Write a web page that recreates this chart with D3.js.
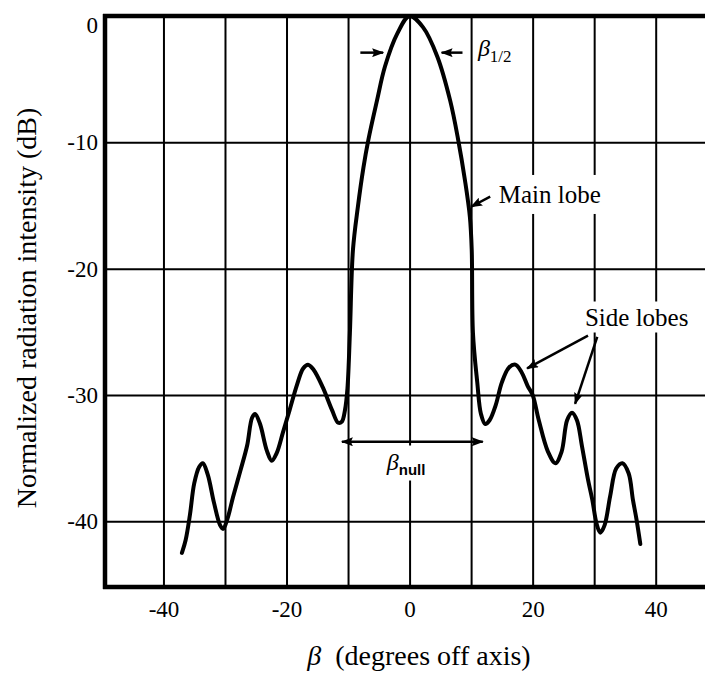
<!DOCTYPE html>
<html>
<head>
<meta charset="utf-8">
<script src="https://cdn.jsdelivr.net/npm/d3@7"></script>
<style>
  html, body { margin: 0; padding: 0; background: #fff; }
  svg { display: block; }
</style>
</head>
<body>
<div id="chart"></div>
<script>
// Antenna radiation pattern: angle off axis (deg) vs normalized intensity (dB)
const beta = [
  -37.0, -36.4, -35.7, -35.0, -34.2, -33.6, -32.8, -31.8, -30.8, -30.3,
  -29.6, -28.7, -27.5, -26.4, -25.6, -25.1, -24.3, -23.2, -22.4, -21.6,
  -20.6, -19.5, -18.3, -17.3, -16.5, -15.6, -14.1, -12.6, -11.6, -11.0,
  -10.5, -10.1, -9.7, -9.2, -8.4, -7.5, -6.7, -5.3, -4.0, -2.0,
  0, 2.2, 4.5, 6.6, 7.9, 9.0, 9.8, 10.1, 10.3, 11.0,
  11.6, 12.3, 13.0, 14.0, 15.0, 16.2, 17.2, 18.2, 19.2, 20.0,
  21.0, 22.5, 23.7, 24.7, 25.6, 26.4, 27.2, 28.0, 29.0, 29.7,
  30.4, 31.0, 31.7, 32.6, 33.6, 34.6, 35.6, 36.3, 36.9, 37.5
]
const intensity = [
  -42.5, -41.5, -39.5, -37.0, -35.7, -35.4, -36.3, -38.5, -40.3, -40.6,
  -39.8, -38.1, -36.0, -34.0, -31.8, -31.5, -32.3, -34.4, -35.2, -34.6,
  -33.0, -31.2, -29.2, -27.9, -27.6, -28.0, -29.4, -31.2, -32.2, -32.1,
  -31.2, -29.5, -25.1, -18.5, -15.1, -12.0, -9.8, -6.7, -4.0, -1.4,
  0, -0.9, -3.2, -6.7, -9.8, -13.0, -15.9, -18.5, -25.1, -29.0,
  -31.5, -32.3, -32.0, -30.8, -29.0, -27.8, -27.6, -28.2, -29.3, -30.0,
  -32.0, -34.5, -35.4, -34.5, -32.0, -31.4, -32.0, -34.0, -36.7, -38.3,
  -40.2, -40.9, -40.3, -38.0, -35.8, -35.4, -36.2, -38.3, -39.9, -41.8
]

const xTicks = [-40, -20, 0, 20, 40]
const xGrid = [-40, -30, -20, -10, 0, 10, 20, 30, 40]
const yTicks = [0, -10, -20, -30, -40]
const yGrid = [-10, -20, -30, -40]

const width = 705
const height = 673
const serif = '"Liberation Serif", "Times New Roman", serif'

const x = d3.scaleLinear().domain([-49.5, 48.5]).range([105, 708])
const y = d3.scaleLinear().domain([-45.2, 0]).range([587, 16])

const svg = d3.select('#chart')
  .append('svg')
  .attr('width', width)
  .attr('height', height)
  .attr('viewBox', `0 0 ${width} ${height}`)

// arrowhead used by all the annotation arrows
svg.append('defs')
  .append('marker')
  .attr('id', 'head')
  .attr('markerUnits', 'userSpaceOnUse')
  .attr('markerWidth', 12)
  .attr('markerHeight', 9)
  .attr('refX', 11)
  .attr('refY', 4.5)
  .attr('orient', 'auto-start-reverse')
  .append('path')
  .attr('d', 'M0,0 L12,4.5 L0,9 L2,4.5 Z')
  .attr('fill', '#000')

// Grid
svg.append('g')
  .attr('transform', `translate(0,${y(-45.2)})`)
  .call(d3.axisBottom(x).tickValues(xGrid).tickSize(-(y(-45.2) - y(0))).tickFormat(''))
  .call(g => g.select('.domain').remove())
  .selectAll('line')
  .attr('stroke', '#000')
  .attr('stroke-width', 2)

svg.append('g')
  .attr('transform', `translate(${x(-49.5)},0)`)
  .call(d3.axisLeft(y).tickValues(yGrid).tickSize(-(width - x(-49.5))).tickFormat(''))
  .call(g => g.select('.domain').remove())
  .selectAll('line')
  .attr('stroke', '#000')
  .attr('stroke-width', 2)

// Axis labels
svg.append('g')
  .attr('transform', `translate(0,${y(-45.2)})`)
  .call(d3.axisBottom(x).tickValues(xTicks).tickSize(0).tickPadding(14).tickFormat(d => String(d)))
  .call(g => g.select('.domain').remove())
  .selectAll('text')
  .attr('fill', '#000')
  .style('font-family', serif)
  .style('font-size', '23px')

svg.append('g')
  .attr('transform', `translate(${x(-49.5)},0)`)
  .call(d3.axisLeft(y).tickValues(yTicks).tickSize(0).tickPadding(7).tickFormat(d => String(d)))
  .call(g => g.select('.domain').remove())
  .selectAll('text')
  .attr('fill', '#000')
  .attr('dy', d => d === 0 ? '0.7em' : '0.32em')
  .style('font-family', serif)
  .style('font-size', '23px')

// Frame: left, top and bottom edges are heavier than the grid
const frame = svg.append('g').attr('stroke', '#000').attr('stroke-width', 4.5)
frame.append('line')
  .attr('x1', x(-49.5)).attr('x2', x(-49.5))
  .attr('y1', y(0) - 2).attr('y2', y(-45.2) + 2)
frame.append('line')
  .attr('x1', x(-49.5) - 2).attr('x2', width)
  .attr('y1', y(0)).attr('y2', y(0))
frame.append('line')
  .attr('x1', x(-49.5) - 2).attr('x2', width)
  .attr('y1', y(-45.2)).attr('y2', y(-45.2))

// Axis titles
svg.append('text')
  .attr('transform', `translate(36,308) rotate(-90)`)
  .attr('text-anchor', 'middle')
  .style('font-family', serif)
  .style('font-size', '28px')
  .text('Normalized radiation intensity (dB)')

const xTitle = svg.append('text')
  .attr('x', 419)
  .attr('y', 665)
  .attr('text-anchor', 'middle')
  .style('font-family', serif)
  .style('font-size', '28px')
xTitle.append('tspan').style('font-style', 'italic').text('β')
xTitle.append('tspan').text('\u00a0 (degrees off axis)')

// Pattern curve
const points = beta.map((b, i) => [b, intensity[i]])
const line = d3.line()
  .x(d => x(d[0]))
  .y(d => y(d[1]))
  .curve(d3.curveCatmullRom.alpha(0.5))

svg.append('path')
  .datum(points)
  .attr('fill', 'none')
  .attr('stroke', '#000')
  .attr('stroke-width', 4)
  .attr('stroke-linejoin', 'round')
  .attr('stroke-linecap', 'round')
  .attr('d', line)

// Annotations
function arrow(from, to, both) {
  svg.append('line')
    .attr('x1', x(from[0])).attr('y1', y(from[1]))
    .attr('x2', x(to[0])).attr('y2', y(to[1]))
    .attr('stroke', '#000')
    .attr('stroke-width', 2.5)
    .attr('marker-end', 'url(#head)')
    .attr('marker-start', both ? 'url(#head)' : null)
}

// white patch behind a label so grid lines break around it
function backdrop(text, padX, padY) {
  const b = text.node().getBBox()
  svg.insert('rect', () => text.node())
    .attr('x', b.x - padX).attr('y', b.y - padY)
    .attr('width', b.width + 2 * padX).attr('height', b.height + 2 * padY)
    .attr('fill', '#fff')
}

// half-power beamwidth
arrow([-8.0, -2.9], [-4.3, -2.9])
arrow([8.6, -2.9], [5.2, -2.9])
const halfLabel = svg.append('text')
  .attr('x', x(11.1))
  .attr('y', y(-3.2))
  .style('font-family', serif)
halfLabel.append('tspan').style('font-style', 'italic').style('font-size', '24px').text('β')
halfLabel.append('tspan').attr('dy', 6).style('font-size', '17px').text('1/2')

// main lobe
const mainLabel = svg.append('text')
  .attr('x', x(14.5))
  .attr('y', y(-14.8))
  .style('font-family', serif)
  .style('font-size', '25px')
  .text('Main lobe')
backdrop(mainLabel, 3, 6)
arrow([13.1, -14.3], [10.0, -15.1])

// side lobes
const sideLabel = svg.append('text')
  .attr('x', x(28.5))
  .attr('y', y(-24.5))
  .style('font-family', serif)
  .style('font-size', '25px')
  .text('Side lobes')
backdrop(sideLabel, 2, 2)
arrow([29.0, -25.3], [19.1, -27.9])
arrow([30.5, -25.4], [26.9, -30.7])

// null-to-null beamwidth
arrow([-11.0, -33.7], [11.9, -33.7], true)
const nullLabel = svg.append('text')
  .attr('x', x(-3.7))
  .attr('y', y(-35.9))
nullLabel.append('tspan')
  .style('font-family', serif)
  .style('font-style', 'italic')
  .style('font-size', '24px')
  .text('β')
nullLabel.append('tspan')
  .attr('dy', 5)
  .style('font-family', '"Liberation Sans", Arial, sans-serif')
  .style('font-weight', 'bold')
  .style('font-size', '15px')
  .text('null')
backdrop(nullLabel, 2, 3)
</script>
</body>
</html>
